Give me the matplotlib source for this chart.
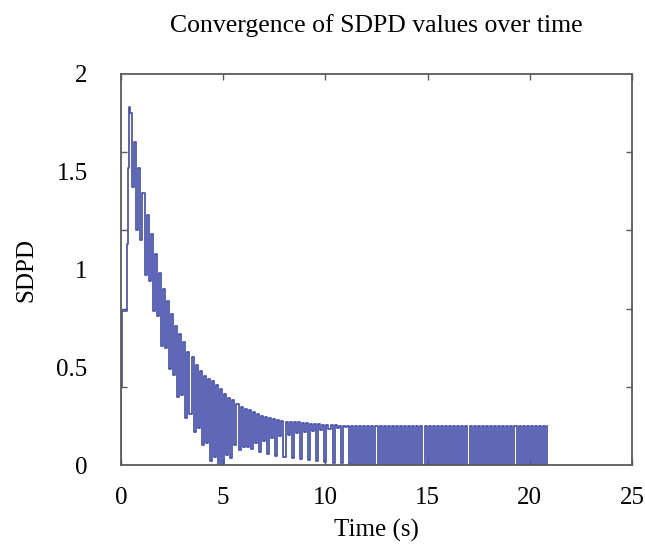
import numpy as np
import matplotlib
matplotlib.use("Agg")
import matplotlib.pyplot as plt
from matplotlib.ticker import MultipleLocator

# ── Data ──────────────────────────────────────────────────────────────────────
START_T   = [0.0, 0.01, 0.03, 0.27, 0.34, 0.40]
START_V   = [0.0, 0.40, 0.79, 1.13, 1.52, 1.83]

CYCLE_T0  = 0.45     # first oscillation cycle (s)
PERIOD    = 0.20     # oscillation period (s)
END_T     = 20.85    # last sample (s)

# upper value of each cycle
UPPER = [1.80, 1.65, 1.52, 1.39, 1.28, 1.18, 1.08, 0.98, 0.90, 0.84,
         0.77, 0.71, 0.67, 0.63, 0.58, 0.55, 0.51, 0.48, 0.455, 0.44,
         0.43, 0.41, 0.39, 0.365, 0.345, 0.33, 0.31, 0.295, 0.285, 0.28,
         0.27, 0.26, 0.25, 0.245, 0.24, 0.235, 0.23, 0.225, 0.222, 0.22,
         0.22, 0.218, 0.215, 0.213, 0.21, 0.209, 0.208, 0.206, 0.205, 0.204,
         0.203, 0.202, 0.201, 0.20] + [0.20] * 49

# lower value of each cycle
LOWER = [1.42, 1.20, 1.15, 0.97, 0.94, 0.79, 0.76, 0.61, 0.60, 0.49,
         0.46, 0.35, 0.36, 0.24, 0.26, 0.17, 0.19, 0.10, 0.11, 0.02,
         0.04, 0.00, 0.00, 0.05, 0.035, 0.10, 0.075, 0.09, 0.09, 0.08,
         0.11, 0.065, 0.125, 0.055, 0.138, 0.048, 0.148, 0.042, 0.156, 0.036,
         0.164, 0.03, 0.168, 0.025, 0.174, 0.02, 0.18, 0.016, 0.185, 0.012,
         0.19, 0.008, 0.194, 0.005] + [0.0] * 49

X_TICKS  = [0, 5, 10, 15, 20, 25]
Y_LABELS = [0, 0.5, 1, 1.5, 2]
Y_MARKS  = 0.4       # tick marks of the original box
LINE_COLOR = "#4652ad"
BOX_COLOR  = "#5a5a5a"

# ── Build the step signal ─────────────────────────────────────────────────────
t = list(START_T)
v = list(START_V)
half = PERIOD / 2
for k, (hi, lo) in enumerate(zip(UPPER, LOWER)):
    tk = CYCLE_T0 + k * PERIOD
    if tk + half > END_T:
        break
    t += [tk, tk + half]
    v += [hi, lo]
t.append(END_T)
v.append(UPPER[-1])

# ── Plot ──────────────────────────────────────────────────────────────────────
plt.rcParams["font.family"] = ["Liberation Serif", "DejaVu Serif"]

fig = plt.figure(figsize=(6.45, 5.46), dpi=100)
ax = fig.add_axes([121 / 645, 1 - 465 / 546, 511 / 645, 391 / 546])

ax.plot(t, v, drawstyle="steps-post", color=LINE_COLOR, linewidth=1.25)

ax.set_xlim(0, 25)
ax.set_ylim(0, 2)
ax.set_xticks(X_TICKS)
ax.set_xticklabels([str(x) for x in X_TICKS])
ax.set_yticks(Y_LABELS)
ax.set_yticklabels([f"{y:g}" for y in Y_LABELS])
ax.yaxis.set_minor_locator(MultipleLocator(Y_MARKS))

ax.tick_params(axis="x", which="major", direction="in", length=4, width=1,
               color=BOX_COLOR, top=True, labelsize=18, pad=16)
ax.tick_params(axis="y", which="major", length=0, labelsize=18, pad=24)
ax.tick_params(axis="y", which="minor", direction="in", length=4, width=1,
               color=BOX_COLOR, right=True)

for s in ax.spines.values():
    s.set_color(BOX_COLOR)
    s.set_linewidth(1.3)

ax.set_xlabel("Time (s)", fontsize=18, labelpad=7)
ax.set_ylabel("SDPD", fontsize=18, labelpad=14)
ax.set_title("Convergence of SDPD values over time", fontsize=18.5, pad=30)

fig.savefig("out.png", dpi=100)
plt.close(fig)
